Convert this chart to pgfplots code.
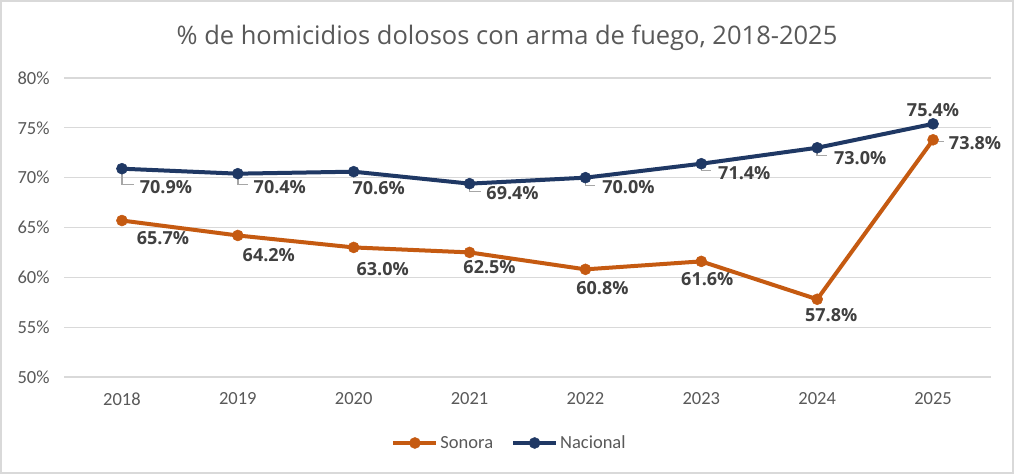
\documentclass[border=0pt]{standalone}
\usepackage{pgfplots}
\pgfplotsset{compat=1.18}
\usepackage{fontspec}
\setmainfont{Carlito}
\newfontfamily\labelfont{Open Sans}
\newfontfamily\titlefont{Open Sans}
\definecolor{sonora}{HTML}{C55A11}
\definecolor{nacional}{HTML}{1F3864}
\definecolor{gridc}{HTML}{D9D9D9}
\definecolor{tickc}{HTML}{595959}
\definecolor{lblc}{HTML}{404040}
\definecolor{leaderc}{HTML}{A6A6A6}
\begin{document}
\begin{tikzpicture}
\useasboundingbox (0,0) rectangle (1014bp,474bp);
\fill[white] (0,0) rectangle (1014bp,474bp);
\draw[color=gridc, line width=1.6bp] (0.8bp,0.8bp) rectangle (1013.2bp,473.2bp);
\node[anchor=base, text=tickc, font=\titlefont\fontsize{25.5bp}{30bp}\selectfont] at (507bp,429bp) {\% de homicidios dolosos con arma de fuego, 2018-2025};
\begin{axis}[
  at={(64bp,97bp)}, anchor=south west,
  scale only axis, width=927bp, height=299bp,
  xmin=-0.5, xmax=7.5, ymin=50, ymax=80,
  clip=false,
  axis line style={draw=none},
  major tick length=0pt,
  ymajorgrids, grid style={color=gridc, line width=1.3bp},
  ytick={50,55,60,65,70,75,80},
  yticklabels={50\%,55\%,60\%,65\%,70\%,75\%,80\%},
  xtick={0,1,2,3,4,5,6,7},
  xticklabels={2018,2019,2020,2021,2022,2023,2024,2025},
  tick label style={font=\fontsize{18.5bp}{22bp}\selectfont, text=tickc},
  yticklabel style={xshift=-11bp},
  xticklabel style={yshift=-12bp},
  /pgf/number format/assume math mode=true,
  legend columns=2,
  legend style={at={(0.4806,-0.2207)}, anchor=center, draw=none, fill=none,
    font=\fontsize{18.5bp}{22bp}\selectfont, text=tickc,
    /tikz/every even column/.append style={column sep=16bp},
    nodes={inner sep=2bp}},
  legend image code/.code={\draw[mark repeat=2,mark phase=2,#1] plot coordinates {(0bp,0bp) (21.5bp,0bp) (43bp,0bp)};},
  nodes near coords={\pgfmathprintnumber[fixed,fixed zerofill,precision=1]{\pgfplotspointmeta}\%},
  nodes near coords style={anchor=center, text=lblc, font=\labelfont\bfseries\fontsize{18bp}{21bp}\selectfont, xshift=\dx bp, yshift=\dy bp, inner sep=0pt},
  visualization depends on={\thisrow{dx}\as\dx},
  visualization depends on={\thisrow{dy}\as\dy},
]
% leader lines
\draw[leaderc, line width=1.4bp] (axis cs:0,70.9) ++(0bp,-5bp) |- ++(12bp,-11bp);
\draw[leaderc, line width=1.4bp] (axis cs:1,70.4) ++(0bp,-5bp) |- ++(10bp,-6bp);
\draw[leaderc, line width=1.4bp] (axis cs:3,69.4) ++(0bp,-4bp) |- ++(11bp,-4bp);
\draw[leaderc, line width=1.4bp] (axis cs:4,70.0) ++(0bp,-4bp) |- ++(10bp,-4bp);
\draw[leaderc, line width=1.4bp] (axis cs:5,71.4) ++(0bp,-4bp) |- ++(10bp,-3bp);
\draw[leaderc, line width=1.4bp] (axis cs:6,73.0) ++(0bp,-4bp) |- ++(10bp,-4bp);
\draw[leaderc, line width=1.4bp] (axis cs:7,73.8) ++(2bp,-2bp) -- ++(9bp,0bp);

\addplot[color=sonora, line width=4bp, mark=*, mark size=5.5bp, mark options={fill=sonora, draw=sonora, line width=0.5bp}]
  table[x=x, y=y, meta=y] {
x y dx dy
0 65.7 41 -18
1 64.2 31 -20
2 63.0 29 -22
3 62.5 20 -15
4 60.8 17 -19
5 61.6 6 -18
6 57.8 14 -16
7 73.8 42 -3
};
\addlegendentry{Sonora}
\addplot[color=nacional, line width=4bp, mark=*, mark size=5.5bp, mark options={fill=nacional, draw=nacional, line width=0.5bp}]
  table[x=x, y=y, meta=y] {
x y dx dy
0 70.9 44 -18
1 70.4 42 -13
2 70.6 25 -16
3 69.4 43 -9
4 70.0 43 -9
5 71.4 43 -9
6 73.0 43 -10
7 75.4 0 14
};
\addlegendentry{Nacional}
\end{axis}
\end{tikzpicture}
\end{document}
